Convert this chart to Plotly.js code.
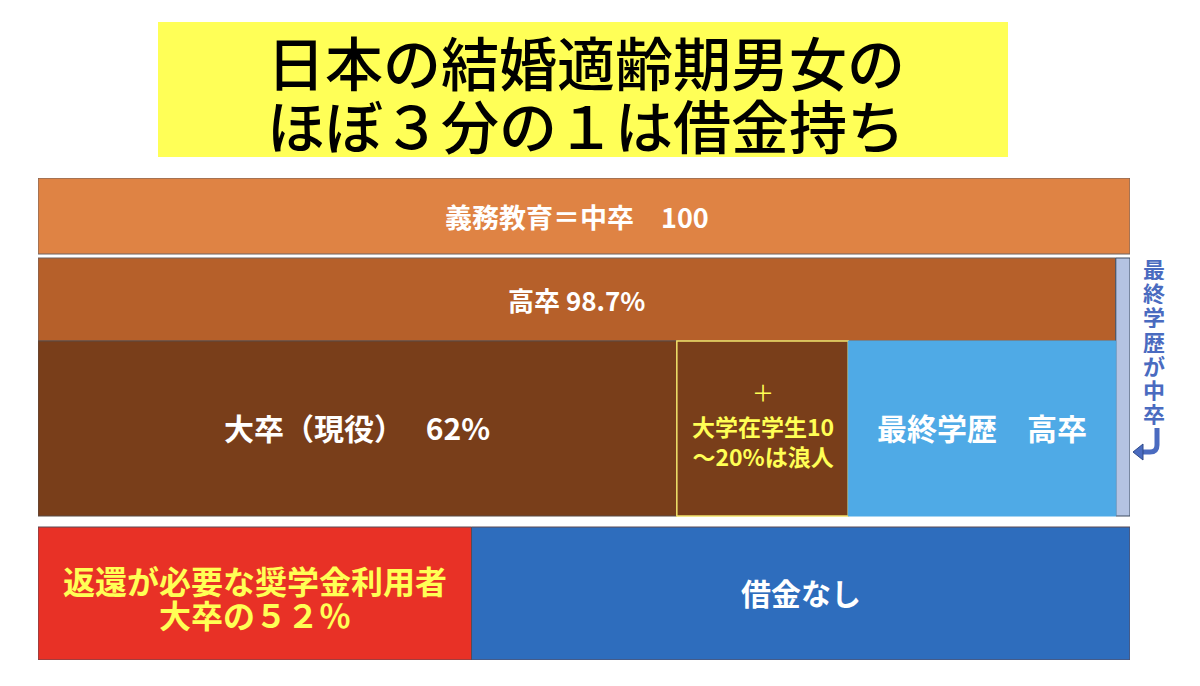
<!DOCTYPE html>
<html><head><meta charset="utf-8">
<script src="https://cdn.plot.ly/plotly-3.0.1.min.js"></script>
<style>html,body{margin:0;padding:0;background:#fff}#chart{width:1200px;height:686px}</style>
</head><body><div id="chart"></div>
<script>
// ---- data ----
const titleLines = ['日本の結婚適齢期男女の', 'ほぼ３分の１は借金持ち'];
const baseLabels = ['義務教育＝中卒　100', '高卒 98.7%'];
const baseValues = [100, 98.7];
const juniorHighLabel = '最終学歴が中卒';
const juniorHighValue = 1.3;
const collegeLabels = ['大卒（現役）　 62%', '大学在学生10<br>～20%は浪人', '最終学歴　高卒'];
const collegeValues = [58.5, 15.7, 24.5];
const loanLabelsLine1 = ['返還が必要な奨学金利用者', '借金なし'];
const loanLabelsLine2 = ['大卒の５２％', ''];
const loanValues = [39.7, 60.3];

// ---- style / geometry ----
const FONT = '"Noto Sans CJK JP", "Noto Sans", sans-serif';
const rowGeom = [{c:444,h:76},{c:360.5,h:83},{c:231.5,h:175},{c:66.5,h:133}];
const slateGeom = {c:273,h:258};
const baseColors = ['#DF8344', '#B6602A'];
const collegeColors = ['#793E1A', '#793E1A', '#4FAAE6'];
const collegeLines = [{c:'#5a4a44',w:1},{c:'#F2E46A',w:1.5},{c:'#4FAAE6',w:1}];
const loanColors = ['#E83126', '#2E6DBD'];

const traces = [];
const annotations = [];
function hbar(g, start, len, color, lc, lw){
  traces.push({type:'bar', orientation:'h', y:[g.c], x:[len], base:[start], width:[g.h],
    marker:{color:color, line:{color:lc, width:lw}}, hoverinfo:'skip', showlegend:false});
}
function label(x, y, text, size, color, weight){
  annotations.push({xref:'x', yref:'y', x:x, y:y, text:text, showarrow:false,
    xanchor:'center', yanchor:'middle',
    font:{family:FONT, size:size, color:color, weight:weight||700}});
}

// rows 1 and 2
baseValues.forEach((v,i)=>{
  hbar(rowGeom[i], 0, v, baseColors[i], '#6f6260', 1);
});
label(baseValues[1]/2, rowGeom[0].c, baseLabels[0], 27, '#ffffff');
label(baseValues[1]/2, rowGeom[1].c, baseLabels[1], 26, '#ffffff');

// junior-high-only sliver
hbar(slateGeom, baseValues[1], juniorHighValue, '#B4C3E2', '#3C4A60', 1);

// row 3
let s = 0;
collegeValues.forEach((v,i)=>{
  hbar(rowGeom[2], s, v, collegeColors[i], collegeLines[i].c, collegeLines[i].w);
  s += v;
});
let c0 = collegeValues[0]/2;
label(c0, rowGeom[2].c + 2, collegeLabels[0], 30, '#ffffff');
let c1 = collegeValues[0] + collegeValues[1]/2;
label(c1, rowGeom[2].c + 38, '＋', 22, '#FFFF55', 400);
label(c1, rowGeom[2].c - 12, collegeLabels[1], 23, '#FFFF55');
let c2 = collegeValues[0] + collegeValues[1] + collegeValues[2]/2;
label(c2, rowGeom[2].c + 2, collegeLabels[2], 30, '#ffffff');

// row 4
s = 0;
loanValues.forEach((v,i)=>{
  hbar(rowGeom[3], s, v, loanColors[i], '#5a4a55', 1);
  s += v;
});
label(loanValues[0]/2, rowGeom[3].c + 14, loanLabelsLine1[0], 32, '#FFFF55');
label(loanValues[0]/2, rowGeom[3].c - 20, loanLabelsLine2[0], 32, '#FFFF55');
label(loanValues[0] + loanValues[1]/2, rowGeom[3].c + 2, loanLabelsLine1[1], 30, '#ffffff');

// px -> paper helpers (plot area: x 38..1130, y 178..660)
const px = v => (v-38)/1092;
const py = v => (660-v)/482;

// vertical caption
Array.from(juniorHighLabel).forEach((ch,i)=>{
  annotations.push({xref:'paper', yref:'paper', x:px(1154), y:py(268 + i*24.2), text:ch,
    showarrow:false, xanchor:'center', yanchor:'middle', height:24,
    font:{family:FONT, size:22, color:'#4A6BC0', weight:700}});
});

// title
titleLines.forEach((t,i)=>{
  annotations.push({xref:'paper', yref:'paper', x:px(586), y:py(61 + i*63), text:t,
    showarrow:false, xanchor:'center', yanchor:'middle',
    font:{family:FONT, size:58, color:'#000000', weight:500}});
});

const shapes = [
  {type:'rect', xref:'paper', yref:'paper', x0:px(158), x1:px(1008), y0:py(157), y1:py(22),
   fillcolor:'#FFFF57', line:{width:0}, layer:'below'},
  // hook arrow
  {type:'path', xref:'paper', yref:'paper',
   path:`M ${px(1157)},${py(428)} L ${px(1157)},${py(445)} Q ${px(1157)},${py(452)} ${px(1150)},${py(452)} L ${px(1142)},${py(452)}`,
   line:{color:'#4A6BC0', width:5}},
  {type:'path', xref:'paper', yref:'paper',
   path:`M ${px(1133)},${py(452)} L ${px(1143)},${py(444)} L ${px(1143)},${py(460)} Z`,
   fillcolor:'#4A6BC0', line:{color:'#2F4A8A', width:1}}
];

const layout = {
  width:1200, height:686,
  margin:{l:38, r:70, t:178, b:26, pad:0},
  paper_bgcolor:'#ffffff', plot_bgcolor:'#ffffff',
  barmode:'overlay', bargap:0,
  xaxis:{range:[0,100], visible:false, fixedrange:true},
  yaxis:{range:[0,482], visible:false, fixedrange:true},
  showlegend:false,
  annotations:annotations, shapes:shapes
};
Plotly.newPlot('chart', traces, layout, {displayModeBar:false, staticPlot:true});
</script>
</body></html>
